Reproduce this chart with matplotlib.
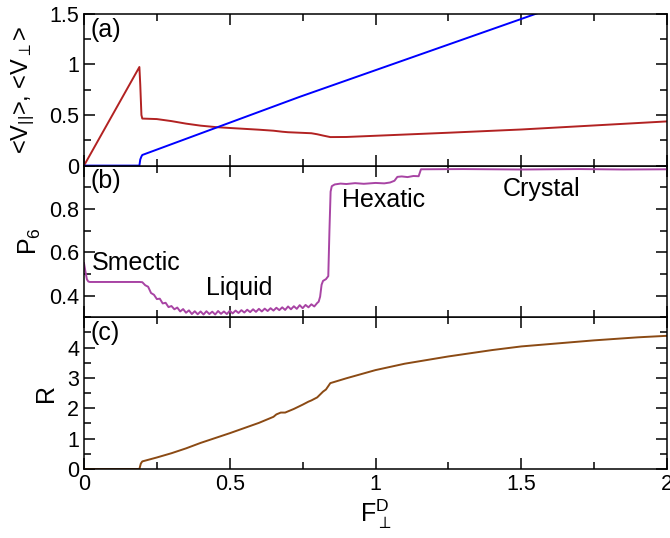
"""
Three stacked panels: drift velocities, P6 order and R versus the driving force.
"""
import matplotlib
matplotlib.use("Agg")
import matplotlib.pyplot as plt
from matplotlib.ticker import FuncFormatter

plt.rcParams['font.family'] = ['Liberation Sans', 'DejaVu Sans']
plt.rcParams['mathtext.fontset'] = 'custom'
plt.rcParams['mathtext.rm'] = 'Liberation Sans'
plt.rcParams['mathtext.it'] = 'Liberation Sans'

# panel (a): <V_par> (red) and <V_perp> (blue)
vpar_x = [0.0, 0.19, 0.193, 0.197, 0.2, 0.25, 0.3, 0.35, 0.4, 0.455, 0.5, 0.6, 0.65,
          0.68, 0.7, 0.74, 0.78, 0.8, 0.82, 0.845, 0.9, 1.0, 1.25, 1.5, 1.75, 2.0]
vpar_y = [0.0, 0.975, 0.8, 0.5, 0.465, 0.46, 0.44, 0.415, 0.395, 0.38, 0.372, 0.355, 0.345,
          0.335, 0.33, 0.325, 0.32, 0.31, 0.297, 0.282, 0.283, 0.295, 0.325, 0.357, 0.397, 0.437]
vperp_x = [0.0, 0.19, 0.193, 0.197, 0.2, 0.74, 1.5, 2.0]
vperp_y = [0.0, 0.0, 0.06, 0.09, 0.105, 0.68, 1.45, 1.96]

# panel (b): P6 (noisy in the liquid state)
p6_x = [0.0, 0.005, 0.01, 0.015, 0.02, 0.1, 0.19,
        0.20, 0.21, 0.22, 0.23, 0.24, 0.25, 0.26, 0.27, 0.28, 0.29,
        0.30, 0.31, 0.32, 0.33, 0.34, 0.35, 0.36, 0.37, 0.38, 0.39,
        0.40, 0.41, 0.42, 0.43, 0.44, 0.45, 0.46, 0.47, 0.48, 0.49,
        0.50, 0.51, 0.52, 0.53, 0.54, 0.55, 0.56, 0.57, 0.58, 0.59,
        0.60, 0.61, 0.62, 0.63, 0.64, 0.65, 0.66, 0.67, 0.68, 0.69,
        0.70, 0.71, 0.72, 0.73, 0.74, 0.75, 0.76, 0.77, 0.78, 0.79,
        0.80, 0.805, 0.81, 0.815, 0.82, 0.83, 0.838, 0.842, 0.846, 0.85,
        0.86, 0.88, 0.9, 0.93, 0.96, 1.0, 1.03, 1.05, 1.065, 1.075, 1.09, 1.11,
        1.13, 1.148, 1.156, 1.3, 1.5, 1.7, 1.85, 2.0]
p6_y = [0.55, 0.51, 0.475, 0.465, 0.463, 0.463, 0.463,
        0.462, 0.448, 0.441, 0.412, 0.404, 0.384, 0.386, 0.364, 0.367, 0.347,
        0.352, 0.337, 0.345, 0.327, 0.338, 0.321, 0.332, 0.315, 0.328, 0.314,
        0.327, 0.313, 0.328, 0.315, 0.326, 0.313, 0.329, 0.316, 0.327, 0.315,
        0.330, 0.318, 0.331, 0.320, 0.333, 0.322, 0.335, 0.324, 0.337, 0.325,
        0.339, 0.327, 0.340, 0.329, 0.342, 0.331, 0.344, 0.333, 0.346, 0.334,
        0.350, 0.337, 0.351, 0.339, 0.356, 0.342, 0.357, 0.346, 0.360, 0.350,
        0.366, 0.372, 0.395, 0.45, 0.468, 0.476, 0.49, 0.70, 0.88, 0.905,
        0.913, 0.917, 0.915, 0.919, 0.916, 0.92, 0.918, 0.922, 0.93, 0.948, 0.95, 0.947,
        0.952, 0.951, 0.983, 0.984, 0.982, 0.984, 0.982, 0.983]

# panel (c): R
r_x = [0.0, 0.19, 0.195, 0.2, 0.25, 0.3, 0.35, 0.4, 0.45, 0.5, 0.55, 0.6, 0.65, 0.66,
       0.675, 0.69, 0.72, 0.75, 0.77, 0.78, 0.8, 0.82, 0.83, 0.845, 0.9, 1.0, 1.1,
       1.25, 1.4, 1.5, 1.6, 1.75, 1.9, 2.0]
r_y = [0.0, 0.0, 0.18, 0.25, 0.38, 0.52, 0.68, 0.86, 1.02, 1.18, 1.35, 1.52, 1.72, 1.8,
       1.86, 1.86, 1.98, 2.12, 2.22, 2.26, 2.36, 2.55, 2.62, 2.83, 2.99, 3.26, 3.47,
       3.71, 3.92, 4.04, 4.12, 4.24, 4.34, 4.39]

phase_labels = ["Smectic", "Liquid", "Hexatic", "Crystal"]
phase_x = [0.027, 0.42, 0.884, 1.437]
phase_y = [0.552, 0.436, 0.843, 0.894]

fig = plt.figure(figsize=(6.7, 5.38), dpi=100)
left, width = 84 / 670, 583 / 670
h = 151.7 / 538
bottom_c = 1 - 469 / 538
ax_c = fig.add_axes([left, bottom_c, width, h])
ax_b = fig.add_axes([left, bottom_c + h, width, h], sharex=ax_c)
ax_a = fig.add_axes([left, bottom_c + 2 * h, width, h], sharex=ax_c)

lw = 1.4
ax_a.plot(vpar_x, vpar_y, color='#b22222', lw=lw)
ax_a.plot(vperp_x, vperp_y, color='#0000ff', lw=lw)
ax_b.plot(p6_x, p6_y, color='#a844a4', lw=lw)
ax_c.plot(r_x, r_y, color='#8b4a14', lw=lw)

fmt = FuncFormatter(lambda v, p: '%g' % v)
for ax in (ax_a, ax_b, ax_c):
    ax.set_xlim(0, 2)
    ax.set_xticks([0, 0.5, 1, 1.5, 2])
    ax.set_xticks([0.25, 0.75, 1.25, 1.75], minor=True)
    ax.tick_params(which='both', direction='in', top=True, right=True,
                   width=1.1, labelsize=15.5)
    ax.tick_params(which='major', length=8)
    ax.tick_params(which='minor', length=5)
    ax.xaxis.set_major_formatter(fmt)
    ax.yaxis.set_major_formatter(fmt)
    for s in ax.spines.values():
        s.set_linewidth(1.1)

for ax in (ax_a, ax_b):
    ax.tick_params(labelbottom=False)

ax_a.set_ylim(0, 1.5)
ax_a.set_yticks([0, 0.5, 1, 1.5])
ax_a.set_yticks([0.25, 0.75, 1.25], minor=True)
ax_b.set_ylim(0.3, 1.0)
ax_b.set_yticks([0.4, 0.6, 0.8])
ax_b.set_yticks([0.3, 0.5, 0.7, 0.9], minor=True)
ax_c.set_ylim(0, 5)
ax_c.set_yticks([0, 1, 2, 3, 4])
ax_c.set_yticks([0.5, 1.5, 2.5, 3.5, 4.5], minor=True)

ax_a.set_ylabel(r"<V$_{||}$>, <V$_{\perp}$>", fontsize=17)
ax_a.yaxis.set_label_coords(-0.08, 0.5)
ax_b.set_ylabel(r"P$_6$", fontsize=18)
ax_b.yaxis.set_label_coords(-0.07, 0.5)
ax_c.set_ylabel("R", fontsize=18)
ax_c.yaxis.set_label_coords(-0.045, 0.5)
ax_c.set_xlabel(r"$\mathrm{F}^{\mathrm{D}}_{\perp}$", fontsize=18, labelpad=2)

for ax, tag in zip((ax_a, ax_b, ax_c), ("(a)", "(b)", "(c)")):
    ax.text(0.012, 0.975, tag, transform=ax.transAxes, va='top', ha='left', fontsize=18)

for lab, x, y in zip(phase_labels, phase_x, phase_y):
    ax_b.text(x, y, lab, va='center', ha='left', fontsize=18)

fig.savefig("out.png", dpi=100)
